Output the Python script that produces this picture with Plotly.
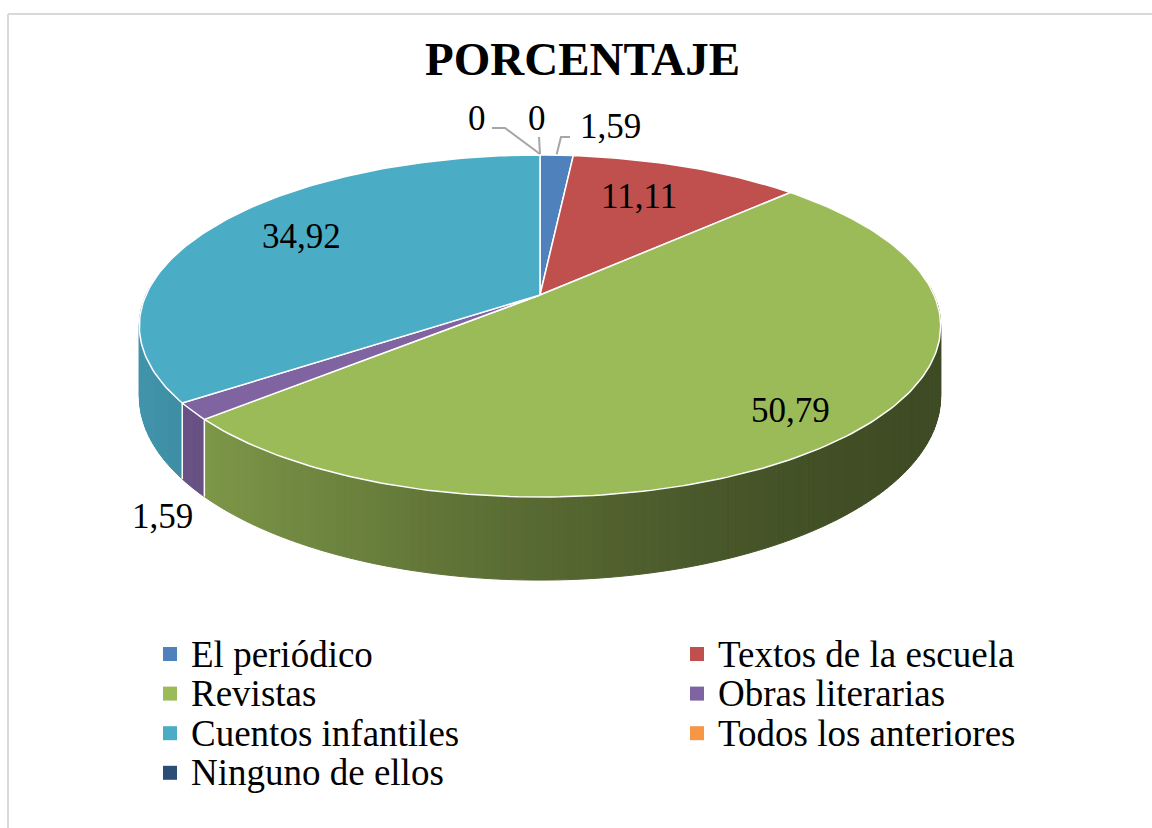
import numpy as np
import plotly.graph_objects as go

# ---------------- data ----------------
categories = ["El periódico", "Textos de la escuela", "Revistas", "Obras literarias",
              "Cuentos infantiles", "Todos los anteriores", "Ninguno de ellos"]
percent = [1.59, 11.11, 50.79, 1.59, 34.92, 0, 0]
value_labels = ["1,59", "11,11", "50,79", "1,59", "34,92", "0", "0"]
colors = ["#4F81BD", "#C0504D", "#9BBB59", "#8064A2", "#4BACC6", "#F79646", "#2C4D75"]
title_text = "PORCENTAJE"

# ---------------- layout / geometry constants (pixels) ----------------
W, HT = 1152, 828
CX, CY = 540, 295          # projected pie centre
RA, RB = 394, 165.4        # horizontal / vertical radii
K = 0.1813                 # perspective strength
DEPTH = 68                 # thickness of the pie
label_pos = [(610, 126), (639, 196), (790, 410), (162, 516), (301, 236), (477, 118), (537, 118)]
leader_elbows = {0: [(570, 137), (561, 137)], 5: [(492, 128), (505, 128)], 6: [(539, 137)]}
FONT = "Liberation Serif, Times New Roman, serif"


def proj(theta, depth=0.0):
    theta = np.asarray(theta, dtype=float)
    u = np.sin(theta)
    v = -np.cos(theta)
    w = 1 - K * v
    x = CX + RA * u / w
    y = CY + (RB * v + depth * DEPTH) / w
    return x, y


def hex_rgb(h):
    h = h.lstrip("#")
    return [int(h[i:i + 2], 16) for i in (0, 2, 4)]


def shade(h, f):
    r, g, b = hex_rgb(h)
    return "rgb(%d,%d,%d)" % (round(r * f), round(g * f), round(b * f))


def side_factor(x):
    t = np.clip((940 - x) / 800.0, 0, 1)
    return 0.40 + 0.46 * t ** 1.5


total = float(sum(percent))
cum = np.concatenate([[0], np.cumsum(percent)])
starts = 2 * np.pi * cum[:-1] / total
ends = 2 * np.pi * cum[1:] / total

fig = go.Figure()

# ---- side walls (many small strips, back to front) ----
strips = []
for i, val in enumerate(percent):
    if val <= 0:
        continue
    t0, t1 = starts[i], ends[i]
    nseg = max(1, int(np.ceil(np.degrees(t1 - t0) / 1.0)))
    edges = np.linspace(t0, t1, nseg + 1)
    for a, b in zip(edges[:-1], edges[1:]):
        m = 0.5 * (a + b)
        vm = -np.cos(m)
        if vm < -0.08:
            continue
        xa, ya = proj(a, 0)
        xb, yb = proj(b, 0)
        xa2, ya2 = proj(a, 1)
        xb2, yb2 = proj(b, 1)
        xm, _ = proj(m, 0)
        col = shade(colors[i], side_factor(float(xm)))
        strips.append((vm, [xa, xb, xb2, xa2, xa], [ya, yb, yb2, ya2, ya], col))

strips.sort(key=lambda s: s[0])
for vm, xs, ys, col in strips:
    fig.add_trace(go.Scatter(x=[float(v) for v in xs], y=[float(v) for v in ys],
                             mode="lines", fill="toself", fillcolor=col,
                             line=dict(color=col, width=1), hoverinfo="skip",
                             showlegend=False))

# white separators on the visible side wall
for t in ends[:-1]:
    if -np.cos(t) > 0:
        x0, y0 = proj(t, 0)
        x1, y1 = proj(t, 1)
        fig.add_trace(go.Scatter(x=[float(x0), float(x1)], y=[float(y0), float(y1)],
                                 mode="lines", line=dict(color="white", width=1.5),
                                 hoverinfo="skip", showlegend=False))

# ---- top faces ----
for i, val in enumerate(percent):
    if val <= 0:
        continue
    n = max(3, int(np.degrees(ends[i] - starts[i])) + 2)
    th = np.linspace(starts[i], ends[i], n)
    x, y = proj(th, 0)
    xs = [CX] + [float(v) for v in x] + [CX]
    ys = [CY] + [float(v) for v in y] + [CY]
    fig.add_trace(go.Scatter(x=xs, y=ys, mode="lines", fill="toself",
                             fillcolor=colors[i], line=dict(color="white", width=1.5),
                             name=categories[i], hoverinfo="name", showlegend=False))

# ---- leader lines ----
for i, elbows in leader_elbows.items():
    mid = 0.5 * (starts[i] + ends[i])
    rx, ry = proj(mid, 0)
    xs = [p[0] for p in elbows] + [float(rx)]
    ys = [p[1] for p in elbows] + [float(ry) - 1]
    fig.add_trace(go.Scatter(x=xs, y=ys, mode="lines",
                             line=dict(color="#A6A6A6", width=2),
                             hoverinfo="skip", showlegend=False))

annotations = []
# ---- data labels ----
for i, lab in enumerate(value_labels):
    lx, ly = label_pos[i]
    annotations.append(dict(x=lx, y=ly, xref="x", yref="y", text=lab, showarrow=False,
                            xanchor="center", yanchor="middle",
                            font=dict(family=FONT, size=35, color="#000000")))

# ---- title ----
annotations.append(dict(x=582, y=59, xref="x", yref="y", text="<b>%s</b>" % title_text,
                        showarrow=False, xanchor="center", yanchor="middle",
                        font=dict(family=FONT, size=47, color="#000000")))

# ---- legend (two columns) ----
LX0, LDX, LY0, LDY = 170, 527, 654, 39.6
for i, name in enumerate(categories):
    col, row = i % 2, i // 2
    mx = LX0 + col * LDX
    my = LY0 + row * LDY
    fig.add_trace(go.Scatter(x=[mx], y=[my], mode="markers",
                             marker=dict(symbol="square", size=14, color=colors[i],
                                         line=dict(width=0)),
                             name=name, hoverinfo="name", showlegend=False))
    annotations.append(dict(x=mx + 19, y=my, xref="x", yref="y", text=name, showarrow=False,
                            xanchor="left", yanchor="middle",
                            font=dict(family=FONT, size=37, color="#000000")))

shapes = [
    dict(type="line", xref="x", yref="y", x0=8, y0=14, x1=W + 5, y1=14,
         line=dict(color="#D9D9D9", width=2)),
    dict(type="line", xref="x", yref="y", x0=8, y0=14, x1=8, y1=HT + 5,
         line=dict(color="#D9D9D9", width=2)),
]

fig.update_layout(
    width=W, height=HT,
    margin=dict(l=0, r=0, t=0, b=0),
    paper_bgcolor="white", plot_bgcolor="white",
    xaxis=dict(range=[0, W], visible=False, fixedrange=True),
    yaxis=dict(range=[HT, 0], visible=False, fixedrange=True),
    showlegend=False,
    annotations=annotations,
    shapes=shapes,
)

fig.write_html("out.html", config={"displayModeBar": False},
               post_script="document.body.style.margin='0';")
